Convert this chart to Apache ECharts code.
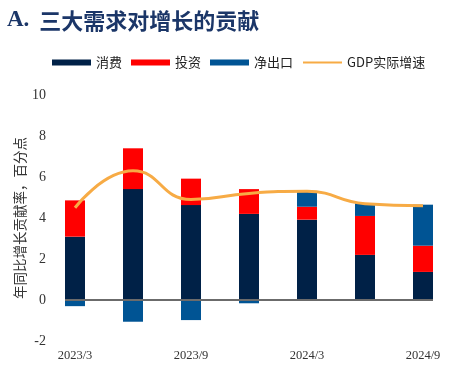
<!DOCTYPE html>
<html><head><meta charset="utf-8">
<script src="https://cdn.jsdelivr.net/npm/echarts@6/dist/echarts.min.js"></script>
<style>html,body{margin:0;padding:0;background:#fff}#c{width:468px;height:366px}</style>
</head><body><div id="c"></div>
<script>
const categories = ['2023/3','2023/6','2023/9','2023/12','2024/3','2024/6','2024/9'];
const consumption = [3.09, 5.41, 4.63, 4.20, 3.92, 2.20, 1.37];
const investment  = [1.77, 1.99, 1.29, 1.21, 0.63, 1.90, 1.28];
const netExports  = [-0.30, -1.06, -0.98, -0.16, 0.77, 0.62, 2.00];
const gdpGrowth   = [4.5, 6.3, 4.9, 5.2, 5.3, 4.7, 4.6];
const zeroLine    = [[0, 0], [1, 0]];

const serif = '"Liberation Serif","Times New Roman",serif';
const cjk = '"Noto Sans CJK SC",sans-serif';

const chart = echarts.init(document.getElementById('c'));
chart.setOption({
  animation: false,
  title: {
    left: 2, top: 4,
    text: '{a|A.}  {b|三大需求对增长的贡献}',
    textStyle: {
      rich: {
        a: {fontFamily: serif, fontWeight: 'bold', fontSize: 23, color: '#1b3668'},
        b: {fontFamily: cjk, fontWeight: 'bold', fontSize: 22, color: '#1b3668'}
      }
    }
  },
  legend: {
    left: 47, top: 51,
    itemWidth: 39, itemHeight: 6, itemGap: 9,
    textStyle: {fontFamily: cjk, fontSize: 13, color: '#222'},
    data: [
      {name: '消费', icon: 'rect'},
      {name: '投资', icon: 'rect'},
      {name: '净出口', icon: 'rect'},
      {name: 'GDP实际增速', itemStyle: {opacity: 0}}
    ]
  },
  grid: [
    {left: 46, right: 16, top: 95, bottom: 25},
    {left: 65, right: 35, top: 95, bottom: 25}
  ],
  xAxis: [{
    type: 'category', data: categories, gridIndex: 0,
    axisLine: {show: false}, axisTick: {show: false},
    axisLabel: {interval: 1, fontFamily: serif, fontSize: 12.5, color: '#333', margin: 8}
  }, {
    type: 'value', gridIndex: 1, min: 0, max: 1, show: false
  }],
  yAxis: [{
    type: 'value', min: -2, max: 10, interval: 2, gridIndex: 0,
    splitLine: {show: false},
    axisLine: {show: false}, axisTick: {show: false},
    axisLabel: {fontFamily: serif, fontSize: 14, color: '#333', margin: 0},
    name: '年同比增长贡献率，百分点',
    nameLocation: 'middle', nameGap: 19, nameMoveOverlap: false,
    nameTextStyle: {fontFamily: cjk, fontSize: 13.5, color: '#333'}
  }, {
    type: 'value', min: -2, max: 10, gridIndex: 1, show: false
  }],
  series: [
    {name: '消费', type: 'bar', stack: 's', barWidth: 20, data: consumption,
     itemStyle: {color: '#002147'}},
    {name: '投资', type: 'bar', stack: 's', barWidth: 20, data: investment,
     itemStyle: {color: '#ff0000'}},
    {name: '净出口', type: 'bar', stack: 's', barWidth: 20, data: netExports,
     itemStyle: {color: '#005494'}},
    {name: 'zero', type: 'line', xAxisIndex: 1, yAxisIndex: 1, data: zeroLine,
     symbol: 'none', silent: true, lineStyle: {color: '#6b6b6b', width: 2}, z: 3},
    {name: 'GDP实际增速', type: 'line', smooth: 0.5, symbol: 'none', data: gdpGrowth,
     lineStyle: {color: '#f7ab45', width: 3}, itemStyle: {color: '#f7ab45'}, z: 5}
  ]
});
</script></body></html>
